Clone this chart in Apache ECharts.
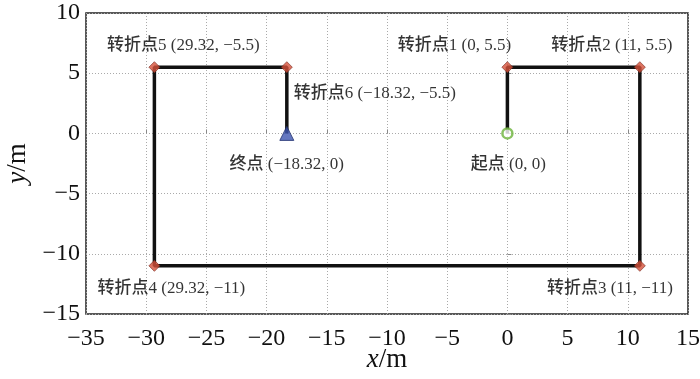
<!DOCTYPE html>
<html><head><meta charset="utf-8">
<script src="https://cdn.jsdelivr.net/npm/echarts@6/dist/echarts.min.js"></script>
<style>html,body{margin:0;padding:0;background:#fff}#c{width:700px;height:379px}</style>
</head><body><div id="c"></div>
<script>
// data
const pathX = [0, 0, 11, 11, -29.32, -29.32, -18.32, -18.32];
const pathY = [0, 5.5, 5.5, -11, -11, 5.5, 5.5, 0];
const pointLabels = ['起点 (0, 0)', '转折点1 (0, 5.5)', '转折点2 (11, 5.5)', '转折点3 (11, −11)', '转折点4 (29.32, −11)', '转折点5 (29.32, −5.5)', '转折点6 (−18.32, −5.5)', '终点 (−18.32, 0)'];
const xRange = [-35, 15];
const yRange = [-15, 10];
const tickStep = 5;

// layout (label offsets from each point, px)
const labelOffsets = [[1,31],[-53,-22],[-28,-22],[-30,23],[17,23],[29,-22],[88,26],[0,31]];

const serif = "'Liberation Serif','Times New Roman','Noto Sans CJK SC',serif";
const labFont = "'Liberation Serif','Noto Sans CJK SC',serif";
const pts = pathX.map((x, i) => [x, pathY[i]]);
const minus = v => String(v).replace('-', '−');

const chart = echarts.init(document.getElementById('c'));
chart.setOption({
  animation: false,
  grid: {left: 86, right: 12, top: 13, bottom: 65, containLabel: false, outerBoundsMode: 'none',
         show: true, borderColor: '#222', borderWidth: 1.5, backgroundColor: 'transparent'},
  xAxis: {
    type: 'value', min: xRange[0], max: xRange[1], interval: tickStep,
    name: '{i|x}/m', nameLocation: 'middle', nameGap: 32, nameMoveOverlap: false,
    nameTextStyle: {fontFamily: serif, fontSize: 27, color: '#111', rich: {i: {fontStyle: 'italic', fontFamily: serif, fontSize: 27, color: '#111'}}},
    axisLine: {show: false},
    axisTick: {show: true, inside: true, length: 4, lineStyle: {color: '#888'}},
    axisLabel: {fontFamily: serif, fontSize: 24, color: '#111', margin: 13, formatter: minus},
    splitLine: {show: true, lineStyle: {color: '#aaa', type: [1, 2], width: 1}}
  },
  yAxis: {
    type: 'value', min: yRange[0], max: yRange[1], interval: tickStep,
    name: '{i|y}/m', nameLocation: 'middle', nameGap: 55, nameRotate: 90, nameMoveOverlap: false,
    nameTextStyle: {fontFamily: serif, fontSize: 27, color: '#111', rich: {i: {fontStyle: 'italic', fontFamily: serif, fontSize: 27, color: '#111'}}},
    axisLine: {show: false},
    axisTick: {show: true, inside: true, length: 4, lineStyle: {color: '#888'}},
    axisLabel: {fontFamily: serif, fontSize: 24, color: '#111', margin: 6, formatter: minus},
    splitLine: {show: true, lineStyle: {color: '#aaa', type: [1, 2], width: 1}}
  },
  series: [
    {type: 'line', data: pts, showSymbol: false, lineStyle: {color: '#111', width: 3.5}, z: 2},
    {type: 'scatter', data: pts.slice(1, 7), symbol: 'diamond', symbolSize: 11,
     itemStyle: {color: '#d5503a', borderColor: '#7a2a1e', borderWidth: 0.8}, z: 3},
    {type: 'scatter', data: [pts[0]], symbol: 'circle', symbolSize: 10,
     itemStyle: {color: '#fff', borderColor: '#6cb33a', borderWidth: 2.5}, z: 3},
    {type: 'scatter', data: [pts[pts.length - 1]], symbol: 'triangle', symbolSize: 14,
     itemStyle: {color: '#3d55b0', borderColor: '#1f2f6e', borderWidth: 1}, z: 3},
    {type: 'scatter', symbolSize: 1, itemStyle: {color: 'transparent'}, z: 4,
     data: pts.map((p, i) => ({value: p, label: {show: true, position: 'inside', offset: labelOffsets[i],
       formatter: pointLabels[i], fontFamily: labFont, fontSize: 17, fontWeight: 500, color: '#000'}}))}
  ]
});
</script></body></html>
